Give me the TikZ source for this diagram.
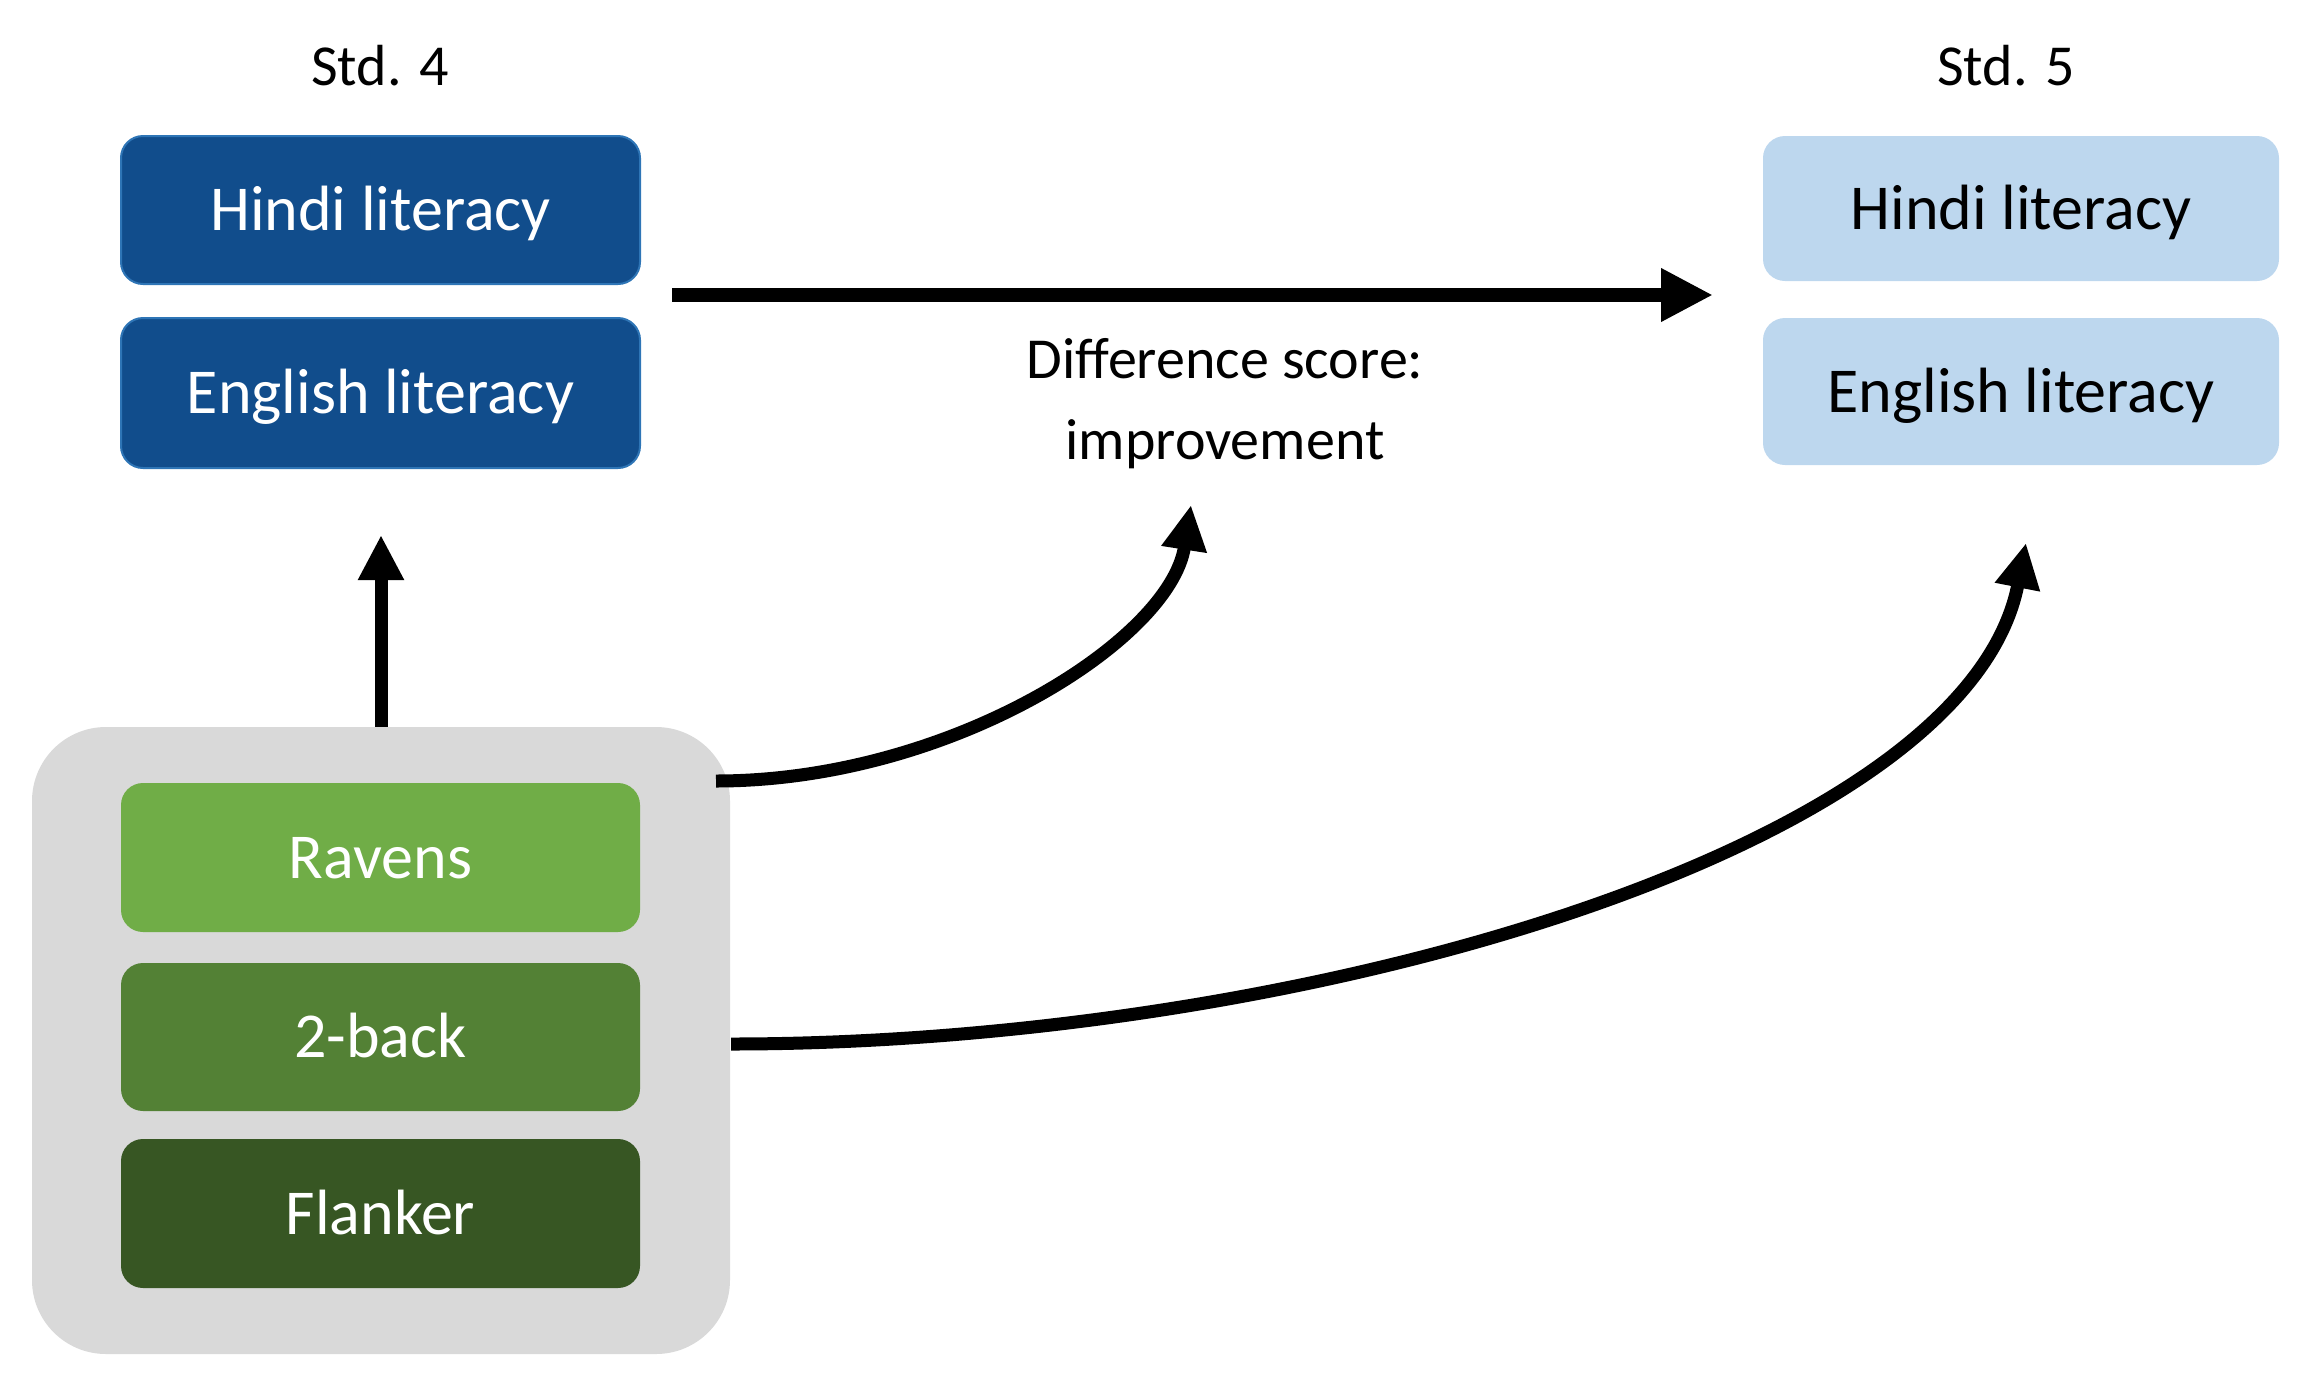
\documentclass[tikz,border=0pt]{standalone}
\usepackage{fontspec}
\setmainfont{Carlito}
\usetikzlibrary{arrows.meta}
\definecolor{dblue}{HTML}{114D8C}
\definecolor{dblueedge}{HTML}{2E75B6}
\definecolor{lblue}{HTML}{BDD7EE}
\definecolor{grnA}{HTML}{70AD47}
\definecolor{grnB}{HTML}{538135}
\definecolor{grnC}{HTML}{375623}
\definecolor{grayback}{HTML}{D9D9D9}
\begin{document}
\begin{tikzpicture}[x=1pt,y=-1pt,
  box/.style={rectangle, rounded corners=22pt, minimum width=519pt, minimum height=148pt, inner sep=0pt, font=\fontsize{64}{77}\selectfont, text height=41pt, text depth=0pt},
  darkbox/.style={box, fill=dblue, draw=dblueedge, line width=2pt, text=white},
  lightbox/.style={box, fill=lblue, text=black},
  greenbox/.style={box, text=white},
  hdr/.style={font=\fontsize{58}{70}\selectfont, text height=37pt, text depth=0pt, inner sep=0pt},
  conn/.style={line width=13pt, -{Triangle[length=45pt,width=43pt]}},
  mainconn/.style={line width=14pt, -{Triangle[length=52pt,width=50pt]}},
]
\useasboundingbox (0,0) rectangle (2316,1390);

% headers
\node[hdr] (std4) at (380,67) {Std. 4};
\node[hdr] (std5) at (2006,67) {Std. 5};

% Std 4 boxes
\node[darkbox] (hl) at (380.5,210) {Hindi literacy};
\node[darkbox, minimum height=150pt] (el) at (380.5,393) {English literacy};

% Std 5 boxes
\node[lightbox, minimum width=516pt, minimum height=145pt] (hr) at (2021,208.5) {Hindi literacy};
\node[lightbox, minimum width=516pt, minimum height=147pt] (er) at (2021,391.5) {English literacy};

% grey group
\node[rectangle, rounded corners=74pt, fill=grayback, minimum width=698pt, minimum height=627pt, inner sep=0pt] (grp) at (381,1040.5) {};
\node[greenbox, fill=grnA, minimum height=149pt] (rav) at (380.5,857.5) {Ravens};
\node[greenbox, fill=grnB] (twob) at (380.5,1037) {2-back};
\node[greenbox, fill=grnC, minimum height=149pt] (fla) at (380.5,1213.5) {Flanker};

% difference label
\node[font=\fontsize{58}{81}\selectfont, align=center, anchor=base, inner sep=0pt] (diff) at (1225,459) {Difference score:\\improvement};

% connector end points
\coordinate (ms) at (672,295);
\coordinate (me) at (1713,295);
\coordinate (vt) at (381,535);
\coordinate (c1s) at (716,781);
\coordinate (c1e) at (1191,505);
\coordinate (c2s) at (731,1044);
\coordinate (c2e) at (2026,543);

% connectors
\draw[mainconn] (ms) -- (me);
\draw[conn] (grp.north) -- (vt);
\draw[conn] (c1s) .. controls (950,781) and (1170,640) .. (c1e);
\draw[conn] (c2s) .. controls (1300,1044) and (1966,850) .. (c2e);
\end{tikzpicture}
\end{document}
